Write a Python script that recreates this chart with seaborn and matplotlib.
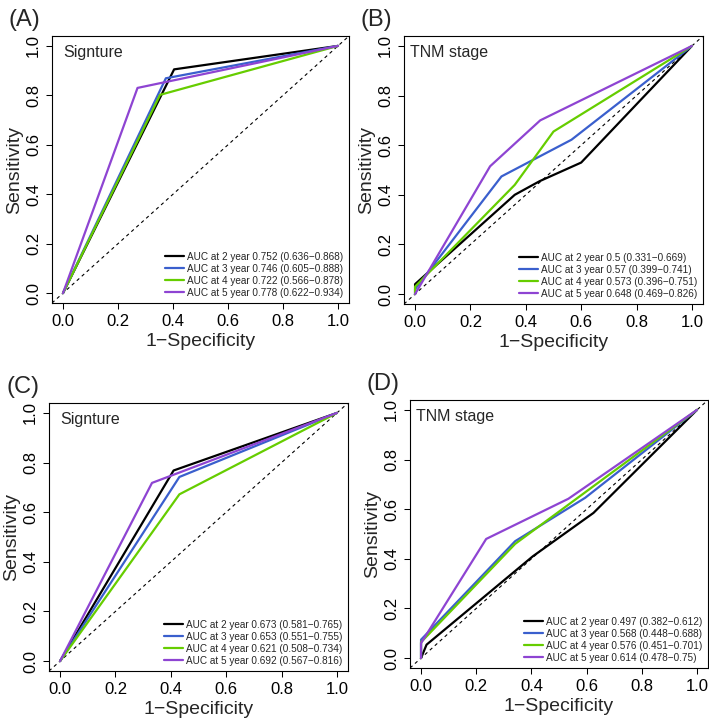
import pandas as pd
import matplotlib
matplotlib.use('Agg')
import matplotlib.pyplot as plt
import seaborn as sns

# ROC curve points (1-specificity, sensitivity)
years = [2, 3, 4, 5]
colors = ['black', '#3A5FCD', '#66CD00', '#8E44D2']

a_fpr = [[0, 0.404, 1], [0, 0.374, 1], [0, 0.353, 1], [0, 0.271, 1]]
a_tpr = [[0, 0.905, 1], [0, 0.869, 1], [0, 0.802, 1], [0, 0.830, 1]]
a_auc = ['0.752', '0.746', '0.722', '0.778']
a_ci = [('0.636', '0.868'), ('0.605', '0.888'), ('0.566', '0.878'), ('0.622', '0.934')]

b_fpr = [[0, 0, 0.36, 0.45, 0.60, 1], [0, 0, 0.312, 0.565, 1], [0, 0, 0.36, 0.50, 1], [0, 0.271, 0.452, 1]]
b_tpr = [[0, 0.04, 0.40, 0.455, 0.53, 1], [0, 0.02, 0.474, 0.622, 1], [0, 0.03, 0.44, 0.655, 1], [0, 0.515, 0.70, 1]]
b_auc = ['0.5', '0.57', '0.573', '0.648']
b_ci = [('0.331', '0.669'), ('0.399', '0.741'), ('0.396', '0.751'), ('0.469', '0.826')]

c_fpr = [[0, 0.41, 1], [0, 0.431, 1], [0, 0.431, 1], [0, 0.332, 1]]
c_tpr = [[0, 0.768, 1], [0, 0.742, 1], [0, 0.672, 1], [0, 0.718, 1]]
c_auc = ['0.673', '0.653', '0.621', '0.692']
c_ci = [('0.581', '0.765'), ('0.551', '0.755'), ('0.508', '0.734'), ('0.567', '0.816')]

d_fpr = [[0, 0.02, 0.405, 0.625, 1], [0, 0, 0.341, 0.595, 1], [0, 0, 0.341, 1], [0, 0, 0.236, 0.534, 1]]
d_tpr = [[0, 0.054, 0.41, 0.585, 1], [0, 0.074, 0.471, 0.646, 1], [0, 0.064, 0.46, 1], [0, 0.06, 0.48, 0.642, 1]]
d_auc = ['0.497', '0.568', '0.576', '0.614']
d_ci = [('0.382', '0.612'), ('0.448', '0.688'), ('0.451', '0.701'), ('0.478', '0.75')]

panels = [
    ('(A)', 'Signture', a_fpr, a_tpr, a_auc, a_ci, [52, 36, 349, 303], 0.0),
    ('(B)', 'TNM stage', b_fpr, b_tpr, b_auc, b_ci, [404, 36, 703, 304], -0.02),
    ('(C)', 'Signture', c_fpr, c_tpr, c_auc, c_ci, [49, 403, 348, 671], 0.0),
    ('(D)', 'TNM stage', d_fpr, d_tpr, d_auc, d_ci, [410, 400, 708, 668], -0.02),
]

sns.set_theme(style='white')
plt.rcParams['font.family'] = ['Liberation Sans', 'DejaVu Sans']

W, H = 709, 725
fig = plt.figure(figsize=(W / 100, H / 100), dpi=100)


def make_df(fpr, tpr, auc, ci):
    rows = []
    for yr, xs, ys, a, (lo, hi) in zip(years, fpr, tpr, auc, ci):
        lab = f'AUC at {yr} year {a} ({lo}\u2212{hi})'
        for x, y in zip(xs, ys):
            rows.append({'fpr': x, 'tpr': y, 'label': lab})
    return pd.DataFrame(rows)


for tag, title, fpr, tpr, auc, ci, box, tx in panels:
    l, t, r, b = box
    ax = fig.add_axes([l / W, 1 - b / H, (r - l) / W, (b - t) / H])
    df = make_df(fpr, tpr, auc, ci)
    sns.lineplot(data=df, x='fpr', y='tpr', hue='label', palette=colors,
                 sort=False, estimator=None, lw=1.6, ax=ax)
    ax.axline((0, 0), (1, 1), color='black', lw=0.8, ls=(0, (3, 3)), zorder=0)
    ax.set_xlim(-0.04, 1.04)
    ax.set_ylim(-0.04, 1.04)
    ax.set_xticks([0, 0.2, 0.4, 0.6, 0.8, 1.0])
    ax.set_yticks([0, 0.2, 0.4, 0.6, 0.8, 1.0])
    ax.set_xticklabels(['0.0', '0.2', '0.4', '0.6', '0.8', '1.0'])
    ax.set_yticklabels(['0.0', '0.2', '0.4', '0.6', '0.8', '1.0'],
                       rotation=90, va='center')
    ax.tick_params(direction='out', length=4, width=0.75, labelsize=12,
                   pad=4, colors='black', left=True, bottom=True)
    for s in ax.spines.values():
        s.set_color('black')
        s.set_linewidth(0.8)
    ax.set_xlabel('1\u2212Specificity', fontsize=14, labelpad=3)
    ax.set_ylabel('Sensitivity', fontsize=14, labelpad=2)
    ax.text(tx, 0.975, title, fontsize=11.5, ha='left', va='center')

    handles, labels = ax.get_legend_handles_labels()
    ax.legend(handles, labels, loc='lower right', bbox_to_anchor=(0.98, 0.02),
              frameon=False, fontsize=7.2, handlelength=1.9, handletextpad=0.25,
              labelspacing=0.2, borderpad=0, borderaxespad=0)

    fig.text((l - 43) / W, 1 - (t - 16) / H, tag, fontsize=17,
             ha='left', va='center')

fig.savefig('out.png', dpi=100)
